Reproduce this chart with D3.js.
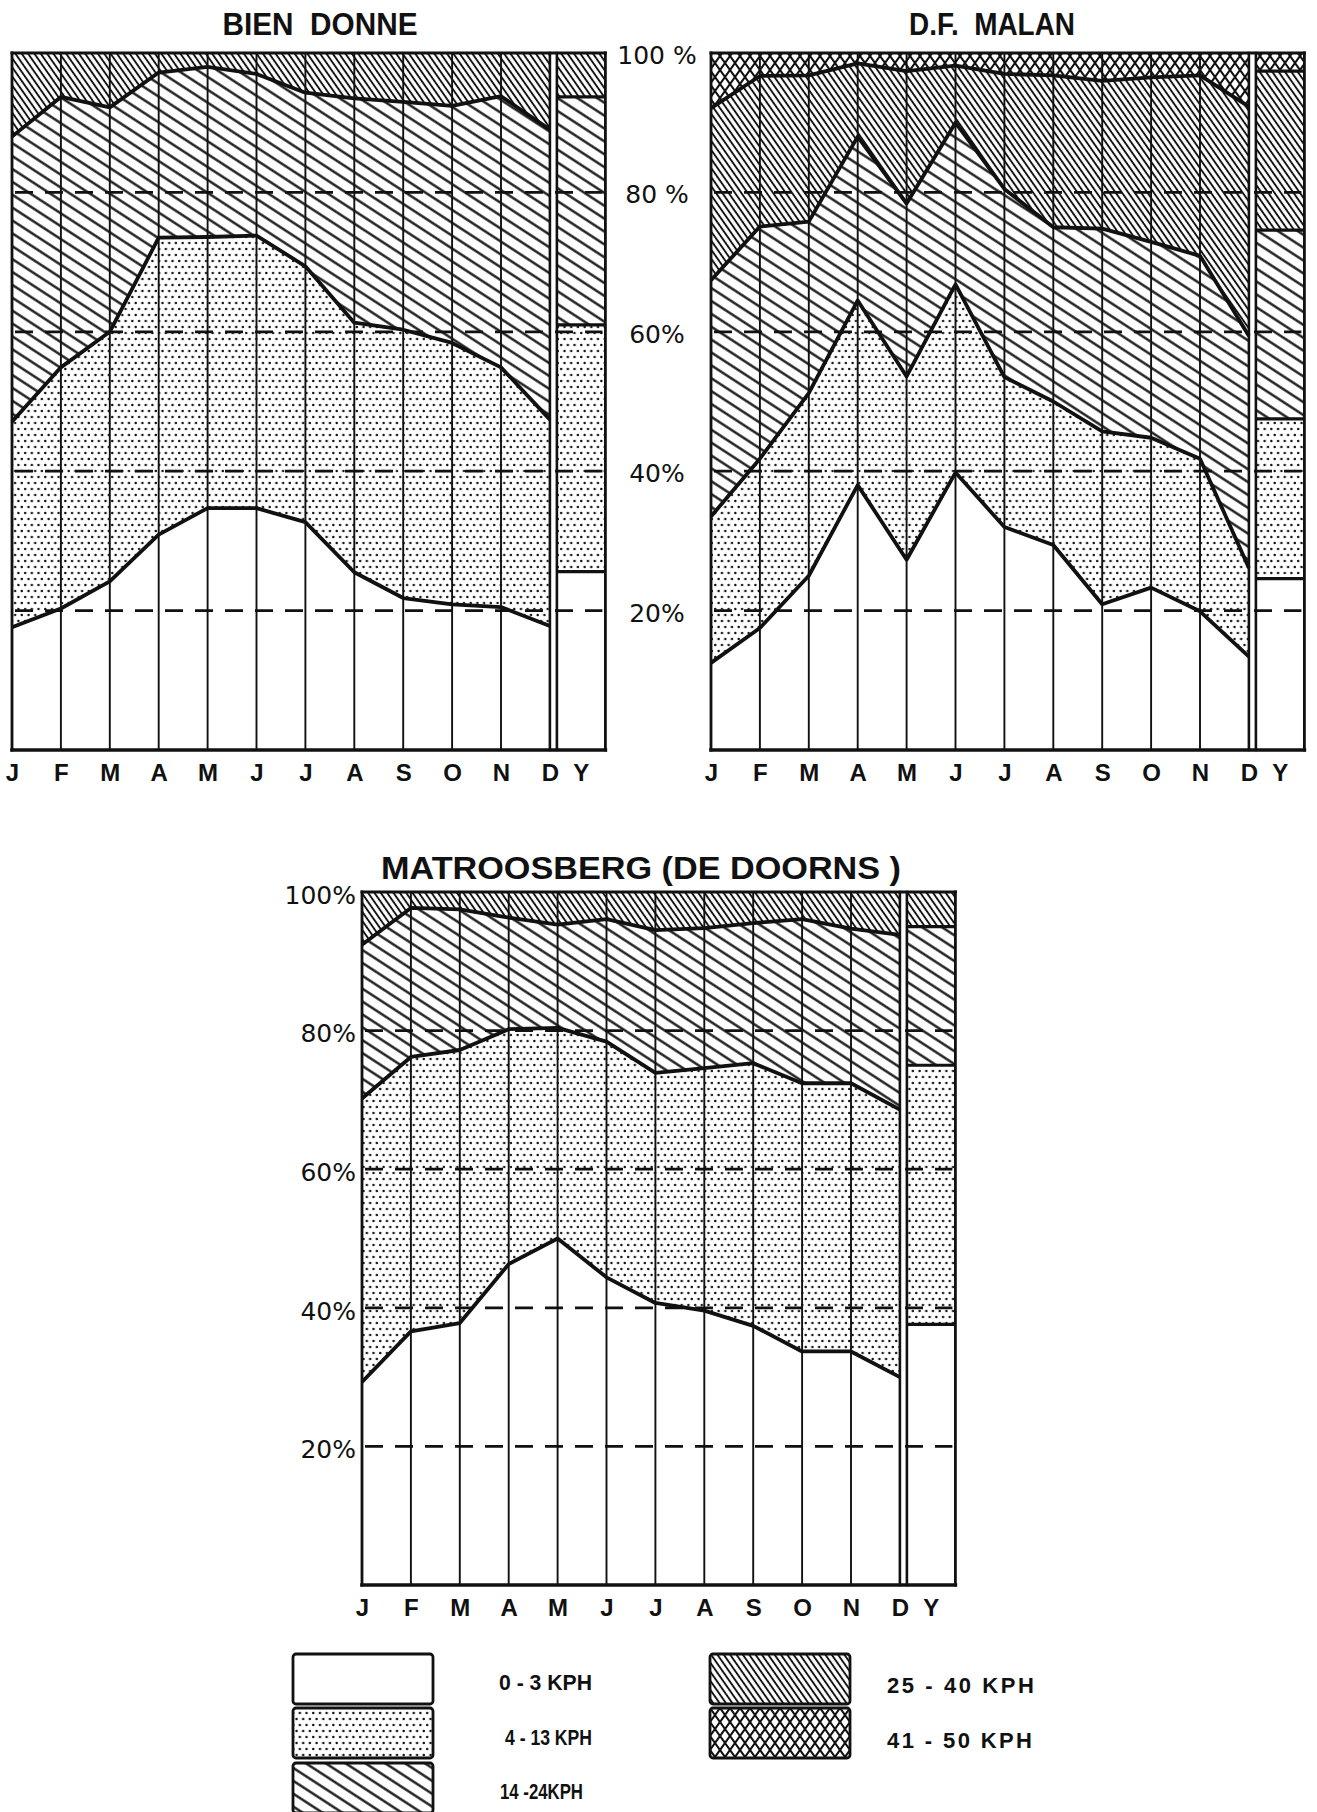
<!DOCTYPE html>
<html>
<head>
<meta charset="utf-8">
<script src="https://cdn.jsdelivr.net/npm/d3@7"></script>
<style>
  html, body { margin: 0; padding: 0; background: #fff; }
  svg { display: block; }
</style>
</head>
<body>
<svg id="chart" width="1317" height="1812"></svg>
<script>
// Monthly wind-speed frequency at three stations.
// Each array gives the cumulative % of observations at or below a speed class limit.
const months = ["J", "F", "M", "A", "M", "J", "J", "A", "S", "O", "N", "D"];
const yearLabel = "Y";
const speedClasses = ["0 - 3 KPH", "4 - 13 KPH", "14 -24KPH", "25 - 40 KPH", "41 - 50 KPH"];
const percentTicks = [20, 40, 60, 80, 100];
const upperPercentLabels = ["20%", "40%", "60%", "80 %", "100 %"];
const lowerPercentLabels = ["20%", "40%", "60%", "80%", "100%"];

const bienDonneUpTo3  = [17.6, 20.3, 24.2, 30.9, 34.7, 34.7, 32.7, 25.5, 21.8, 20.9, 20.5, 17.8];
const bienDonneUpTo13 = [47.1, 54.9, 60.0, 73.5, 73.6, 73.8, 69.4, 61.3, 60.3, 58.4, 54.9, 47.4];
const bienDonneUpTo24 = [88.0, 93.7, 92.2, 97.2, 98.0, 97.0, 94.3, 93.5, 93.0, 92.4, 93.8, 89.0];
const bienDonneYear   = [25.6, 61.0, 93.7];

const dfMalanUpTo3  = [12.5, 17.5, 25.0, 38.0, 27.3, 39.8, 32.0, 29.4, 20.9, 23.3, 19.9, 13.4];
const dfMalanUpTo13 = [33.5, 41.8, 51.2, 64.5, 53.6, 66.8, 53.5, 50.0, 45.7, 44.8, 41.8, 26.1];
const dfMalanUpTo24 = [67.4, 75.1, 75.8, 88.0, 78.4, 90.0, 80.5, 75.0, 74.8, 72.9, 70.9, 59.4];
const dfMalanUpTo40 = [92.1, 96.7, 96.8, 98.5, 97.4, 98.2, 97.0, 96.8, 96.0, 96.5, 96.8, 92.3];
const dfMalanYear   = [24.6, 47.5, 74.6, 97.4];

const matroosbergUpTo3  = [29.3, 36.6, 37.8, 46.3, 50.0, 44.4, 40.7, 39.6, 37.4, 33.7, 33.7, 30.0];
const matroosbergUpTo13 = [70.2, 76.2, 77.2, 80.2, 80.4, 78.4, 73.9, 74.6, 75.3, 72.4, 72.4, 68.6];
const matroosbergUpTo24 = [92.4, 97.7, 97.5, 96.3, 95.3, 96.1, 94.5, 94.8, 95.5, 96.1, 94.7, 93.8];
const matroosbergYear   = [37.6, 75.0, 95.0];

const INK = "#111";
const FONT = "'Liberation Sans', Arial, sans-serif";
const svg = d3.select("#chart");
const defs = svg.append("defs");

// ---- fill patterns for the speed classes ----
const dots = defs.append("pattern").attr("id", "dots")
  .attr("patternUnits", "userSpaceOnUse").attr("width", 6.7).attr("height", 12);
dots.append("rect").attr("width", 6.7).attr("height", 12).attr("fill", "#fff");
dots.append("circle").attr("cx", 1.7).attr("cy", 3).attr("r", 1.25).attr("fill", INK);
dots.append("circle").attr("cx", 5.05).attr("cy", 9).attr("r", 1.25).attr("fill", INK);

function hatch(id, spacing, angle, width) {
  const p = defs.append("pattern").attr("id", id)
    .attr("patternUnits", "userSpaceOnUse")
    .attr("width", 20).attr("height", spacing)
    .attr("patternTransform", `rotate(${angle})`);
  p.append("rect").attr("width", 20).attr("height", spacing).attr("fill", "#fff");
  p.append("line").attr("x1", -1).attr("x2", 21)
    .attr("y1", spacing / 2).attr("y2", spacing / 2)
    .attr("stroke", INK).attr("stroke-width", width);
}
hatch("hatchWide", 10.8, 33, 2.3);
hatch("hatchDense", 5.2, 55, 1.9);

const dm = defs.append("pattern").attr("id", "diamonds")
  .attr("patternUnits", "userSpaceOnUse").attr("width", 10).attr("height", 14);
dm.append("rect").attr("width", 10).attr("height", 14).attr("fill", "#fff");
dm.append("path").attr("d", "M-1,-1.4L11,15.4M11,-1.4L-1,15.4")
  .attr("stroke", INK).attr("stroke-width", 2.1).attr("fill", "none");

const classFills = ["#fff", "url(#dots)", "url(#hatchWide)", "url(#hatchDense)", "url(#diamonds)"];

// ---- panel layout ----
const step = 48.9;
const panels = [
  { title: "BIEN  DONNE", titleX: 320, titleY: 35, titleWidth: 195,
    x0: 12, top: 53, bottom: 750,
    cum: [bienDonneUpTo3, bienDonneUpTo13, bienDonneUpTo24], year: bienDonneYear },
  { title: "D.F.  MALAN", titleX: 992, titleY: 35, titleWidth: 166,
    x0: 711, top: 53, bottom: 750,
    cum: [dfMalanUpTo3, dfMalanUpTo13, dfMalanUpTo24, dfMalanUpTo40], year: dfMalanYear },
  { title: "MATROOSBERG (DE DOORNS )", titleX: 641, titleY: 879, titleWidth: 520,
    x0: 362, top: 892, bottom: 1585,
    cum: [matroosbergUpTo3, matroosbergUpTo13, matroosbergUpTo24], year: matroosbergYear }
];

function drawPanel(p) {
  const g = svg.append("g");
  const x = d3.scalePoint().domain(d3.range(months.length))
    .range([p.x0, p.x0 + (months.length - 1) * step]);
  const y = d3.scaleLinear().domain([0, 100]).range([p.bottom, p.top]);
  const xD = x(months.length - 1);
  const yearL = xD + 7, yearR = yearL + 48.5;

  const zeros = months.map(() => 0);
  const full = months.map(() => 100);
  const bounds = [zeros, ...p.cum, full];

  const area = d3.area()
    .x((d, i) => x(i))
    .y0(d => y(d[0]))
    .y1(d => y(d[1]));

  // stacked class bands across the months
  for (let k = 0; k < bounds.length - 1; k++) {
    const rows = months.map((m, i) => [bounds[k][i], bounds[k + 1][i]]);
    g.append("path").datum(rows).attr("d", area).attr("fill", classFills[k]);
  }

  // annual column
  const yb = [0, ...p.year, 100];
  for (let k = 0; k < yb.length - 1; k++) {
    g.append("rect")
      .attr("x", yearL).attr("width", yearR - yearL)
      .attr("y", y(yb[k + 1])).attr("height", y(yb[k]) - y(yb[k + 1]))
      .attr("fill", classFills[k]);
  }

  // dashed reference levels
  g.selectAll(".grid").data(percentTicks.filter(t => t < 100)).enter()
    .append("line")
    .attr("x1", p.x0 + 3).attr("x2", yearR - 3)
    .attr("y1", d => y(d)).attr("y2", d => y(d))
    .attr("stroke", INK).attr("stroke-width", 2.8)
    .attr("stroke-dasharray", "18,12");

  // month dividers
  g.selectAll(".mline").data(d3.range(1, months.length - 1)).enter()
    .append("line")
    .attr("x1", i => x(i)).attr("x2", i => x(i))
    .attr("y1", p.top).attr("y2", p.bottom)
    .attr("stroke", INK).attr("stroke-width", 1.9);

  // class boundary lines
  const line = d3.line().x((d, i) => x(i)).y(d => y(d));
  p.cum.forEach(c => {
    g.append("path").datum(c).attr("d", line)
      .attr("fill", "none").attr("stroke", INK)
      .attr("stroke-width", 3.8).attr("stroke-linejoin", "round");
  });
  p.year.forEach(v => {
    g.append("line").attr("x1", yearL).attr("x2", yearR)
      .attr("y1", y(v)).attr("y2", y(v))
      .attr("stroke", INK).attr("stroke-width", 3.2);
  });

  // frames
  const frame = (x1, y1, x2, y2, w) => g.append("line")
    .attr("x1", x1).attr("y1", y1).attr("x2", x2).attr("y2", y2)
    .attr("stroke", INK).attr("stroke-width", w).attr("stroke-linecap", "square");
  frame(p.x0, p.top, yearR, p.top, 3.0);
  frame(p.x0, p.bottom, yearR, p.bottom, 3.6);
  frame(p.x0, p.top, p.x0, p.bottom, 2.8);
  frame(xD, p.top, xD, p.bottom, 2.6);
  frame(yearL, p.top, yearL, p.bottom, 2.6);
  frame(yearR, p.top, yearR, p.bottom, 2.8);

  // month labels
  const ax = g.append("g").attr("transform", `translate(0,${p.bottom})`)
    .call(d3.axisBottom(x).tickSize(0).tickPadding(14).tickFormat(i => months[i]));
  ax.select(".domain").remove();
  ax.selectAll("text")
    .attr("font-family", FONT)
    .attr("font-weight", "bold").attr("font-size", 24).attr("fill", INK);
  g.append("text")
    .attr("x", (yearL + yearR) / 2).attr("y", p.bottom + 14).attr("dy", "0.71em")
    .attr("text-anchor", "middle")
    .attr("font-family", FONT)
    .attr("font-weight", "bold").attr("font-size", 24).attr("fill", INK)
    .text(yearLabel);

  // title
  g.append("text")
    .attr("x", p.titleX).attr("y", p.titleY)
    .attr("text-anchor", "middle")
    .attr("font-family", FONT)
    .attr("font-weight", "bold").attr("font-size", 31)
    .attr("textLength", p.titleWidth).attr("lengthAdjust", "spacingAndGlyphs")
    .style("white-space", "pre").attr("fill", INK)
    .text(p.title);

  return y;
}

const yTop = drawPanel(panels[0]);
drawPanel(panels[1]);
const yLow = drawPanel(panels[2]);

// percent scale between the two upper panels
const upperAxis = svg.append("g").attr("transform", "translate(657,0)")
  .call(d3.axisLeft(yTop).tickValues(percentTicks).tickSize(0)
    .tickFormat(v => upperPercentLabels[percentTicks.indexOf(v)]));
upperAxis.select(".domain").remove();
upperAxis.selectAll("text")
  .attr("x", 0).attr("dy", "0.42em").attr("text-anchor", "middle")
  .attr("font-family", "'DejaVu Sans', sans-serif").attr("font-size", 25).attr("fill", INK)
  .style("white-space", "pre");

// percent scale left of the lower panel
const lowerAxis = svg.append("g").attr("transform", "translate(356,0)")
  .call(d3.axisLeft(yLow).tickValues(percentTicks).tickSize(0).tickPadding(0)
    .tickFormat(v => lowerPercentLabels[percentTicks.indexOf(v)]));
lowerAxis.select(".domain").remove();
lowerAxis.selectAll("text")
  .attr("dy", "0.45em")
  .attr("font-family", "'DejaVu Sans', sans-serif").attr("font-size", 25).attr("fill", INK);

// ---- legend ----
const legendPos = [
  { x: 293, y: 1654, tx: 499, ty: 1690, tw: 93, fit: "spacingAndGlyphs" },
  { x: 293, y: 1708, tx: 505, ty: 1745, tw: 87, fit: "spacingAndGlyphs" },
  { x: 293, y: 1763, tx: 500, ty: 1799, tw: 83, fit: "spacingAndGlyphs" },
  { x: 710, y: 1654, tx: 887, ty: 1693, tw: 147, fit: "spacing" },
  { x: 710, y: 1708, tx: 887, ty: 1748, tw: 145, fit: "spacing" }
];
const legend = svg.append("g");
speedClasses.forEach((name, k) => {
  const pos = legendPos[k];
  legend.append("rect")
    .attr("x", pos.x).attr("y", pos.y).attr("width", 140).attr("height", 50)
    .attr("rx", 3).attr("fill", classFills[k])
    .attr("stroke", INK).attr("stroke-width", 2.8);
  legend.append("text")
    .attr("x", pos.tx).attr("y", pos.ty)
    .attr("font-family", FONT)
    .attr("font-weight", "bold").attr("font-size", 22)
    .attr("textLength", pos.tw).attr("lengthAdjust", pos.fit)
    .style("white-space", "pre").attr("fill", INK)
    .text(name);
});
</script>
</body>
</html>
